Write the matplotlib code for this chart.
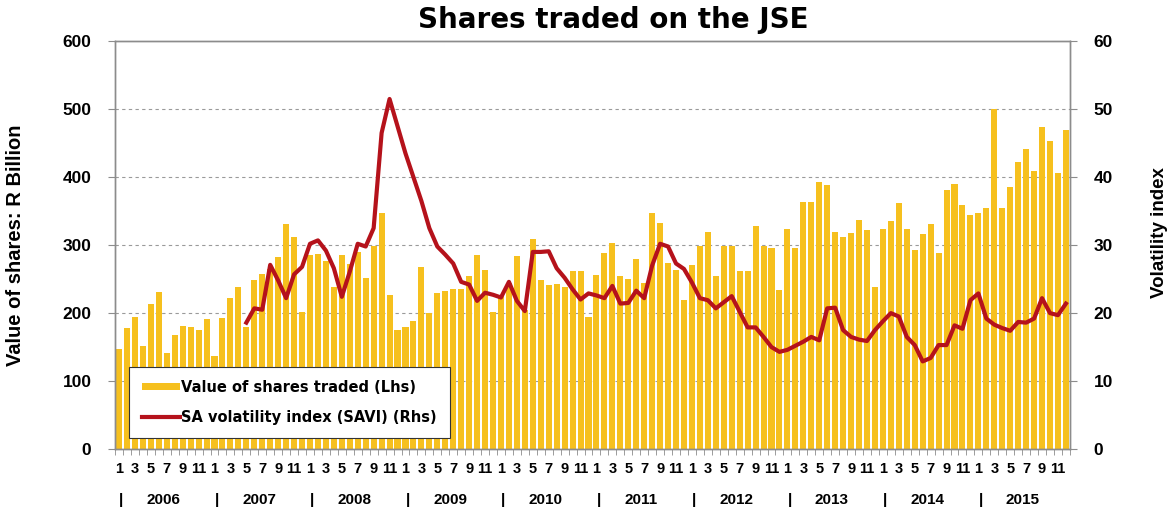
import numpy as np
import matplotlib
matplotlib.use('Agg')
import matplotlib.pyplot as plt
from matplotlib.patches import Patch
from matplotlib.lines import Line2D
import matplotlib.transforms as mtransforms

plt.rcParams['font.family'] = ['Liberation Sans', 'DejaVu Sans']

years = list(range(2006, 2016))
month_labels = ['1', '3', '5', '7', '9', '11']

# value of shares traded, R billion, Jan 2006 - Dec 2015
shares_traded = [
    147, 178, 194, 151, 213, 231, 141, 168, 181, 179, 175, 191,  # 2006
    137, 193, 222, 238, 179, 248, 257, 265, 282, 331, 312, 202,  # 2007
    285, 287, 277, 238, 286, 272, 290, 251, 298, 347, 227, 175,  # 2008
    180, 188, 268, 200, 230, 233, 235, 235, 254, 285, 263, 202,  # 2009
    227, 244, 284, 204, 309, 248, 241, 243, 239, 262, 262, 195,  # 2010
    256, 289, 303, 255, 250, 280, 245, 347, 333, 274, 264, 220,  # 2011
    271, 299, 319, 255, 299, 299, 262, 262, 328, 299, 296, 234,  # 2012
    324, 296, 364, 364, 393, 388, 320, 312, 318, 337, 322, 238,  # 2013
    324, 336, 362, 324, 293, 316, 331, 288, 381, 390, 359, 345,  # 2014
    347, 354, 500, 355, 386, 423, 442, 409, 474, 453, 406, 469,  # 2015
]

# SA volatility index (SAVI), starts May 2007
savi = [np.nan] * 12 + [
    np.nan, np.nan, np.nan, np.nan, 18.6, 20.7, 20.5, 27.1, 24.8, 22.2, 25.7, 26.8,  # 2007
    30.2, 30.7, 29.2, 26.6, 22.4, 26.1, 30.2, 29.8, 32.5, 46.5, 51.5, 47.5,  # 2008
    43.5, 40.0, 36.5, 32.5, 29.8, 28.6, 27.3, 24.6, 24.2, 21.8, 23.0, 22.7,  # 2009
    22.3, 24.6, 21.8, 20.3, 29.0, 29.0, 29.1, 26.6, 25.2, 23.5, 22.0, 22.9,  # 2010
    22.6, 22.2, 24.0, 21.4, 21.5, 23.3, 22.2, 27.0, 30.2, 29.8, 27.3, 26.5,  # 2011
    24.5, 22.2, 21.9, 20.7, 21.6, 22.5, 20.2, 17.9, 17.9, 16.5, 15.0, 14.3,  # 2012
    14.6, 15.2, 15.8, 16.5, 16.0, 20.7, 20.8, 17.5, 16.5, 16.1, 15.9, 17.5,  # 2013
    18.8, 20.0, 19.5, 16.5, 15.3, 12.9, 13.4, 15.3, 15.3, 18.2, 17.7, 21.9,  # 2014
    22.9, 19.2, 18.3, 17.8, 17.4, 18.7, 18.6, 19.2, 22.2, 20.0, 19.7, 21.4,  # 2015
]

bar_color = '#F6C01E'
line_color = '#B5121B'
frame_color = '#8C8C8C'

x = np.arange(len(shares_traded))

fig = plt.figure(figsize=(11.68, 5.15), dpi=100)
ax = fig.add_axes([0.0985, 0.128, 0.8175, 0.792])
ax2 = ax.twinx()

ax.bar(x, shares_traded, width=0.76, color=bar_color, zorder=2)
ax.set_ylim(0, 600)
ax.set_xlim(-0.5, len(x) - 0.5)
ax.set_yticks(range(0, 601, 100))
for v in range(100, 600, 100):
    ax.axhline(v, color='#9A9A9A', lw=0.8, ls=(0, (3, 3)), zorder=1)

ax2.plot(x, savi, color=line_color, lw=3, solid_joinstyle='round', zorder=3)
ax2.set_ylim(0, 60)
ax2.set_yticks(range(0, 61, 10))

# x ticks: odd months labelled, small marks between months
pos = [i for i in x if i % 2 == 0]
ax.set_xticks(pos)
ax.set_xticklabels(month_labels * len(years), fontsize=10.5, fontweight='bold')
ax.tick_params(axis='x', which='major', length=0, pad=9)
ax.set_xticks(np.arange(-0.5, len(x), 1), minor=True)
ax.tick_params(axis='x', which='minor', length=4, color=frame_color, direction='out')

ax.tick_params(axis='y', length=5, color=frame_color, pad=12, labelsize=12.5)
ax2.tick_params(axis='y', length=5, color=frame_color, pad=12, labelsize=12.5)
for lab in ax.get_yticklabels() + ax2.get_yticklabels():
    lab.set_fontweight('bold')

for a in (ax, ax2):
    for s in a.spines.values():
        s.set_color(frame_color)
        s.set_linewidth(1.0)

# year row under the month labels
trans = mtransforms.blended_transform_factory(ax.transData, ax.transAxes)
for k, yr in enumerate(years):
    ax.text(12 * k + 0.3, -0.125, '|', transform=trans, ha='center', va='center',
            fontsize=11, fontweight='bold')
    ax.text(12 * k + 5.6, -0.125, str(yr), transform=trans, ha='center', va='center',
            fontsize=11, fontweight='bold')

ax.set_ylabel('Value of shares: R Billion', fontsize=14.5, fontweight='bold')
ax.yaxis.set_label_coords(-0.094, 0.5)
ax2.set_ylabel('Volatility index', fontsize=13.5, fontweight='bold')
ax2.yaxis.set_label_coords(1.085, 0.53)

fig.text(0.525, 0.962, 'Shares traded on the JSE', ha='center', va='center',
         fontsize=20, fontweight='heavy', family='DejaVu Sans')

handles = [Patch(facecolor=bar_color, edgecolor='none'),
           Line2D([], [], color=line_color, lw=3)]
leg = ax2.legend(handles, ['Value of shares traded (Lhs)', 'SA volatility index (SAVI) (Rhs)'],
                 loc='lower left', bbox_to_anchor=(0.015, 0.028), fancybox=False,
                 framealpha=1, edgecolor='#333333', borderpad=0.9, labelspacing=1.0,
                 handlelength=2.6, handleheight=0.4, handletextpad=0.05,
                 borderaxespad=0.0,
                 prop={'weight': 'bold', 'size': 10.5, 'family': 'DejaVu Sans'})
leg.get_frame().set_linewidth(0.8)
leg.set_zorder(10)

fig.savefig('out.png', dpi=100)
